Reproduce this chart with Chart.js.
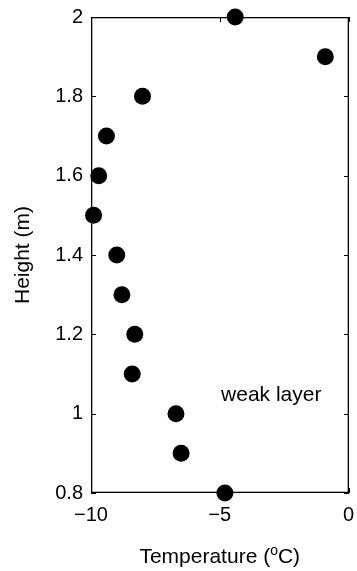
<!DOCTYPE html>
<html>
<head>
<meta charset="utf-8">
<script src="https://cdn.jsdelivr.net/npm/chart.js@4/dist/chart.umd.min.js"></script>
<style>
    html, body { margin: 0; padding: 0; background: #fff; overflow: hidden; }
    #wrap { width: 357px; height: 571px; position: relative; }
    canvas { display: block; }
</style>
</head>
<body>
<div id="wrap"><canvas id="myChartProfile"></canvas></div>
<script>
// temperature profile
var heights = [2.0, 1.9, 1.8, 1.7, 1.6, 1.5, 1.4, 1.3, 1.2, 1.1, 1.0, 0.9, 0.8];
var temps = [-4.4, -0.9, -8.0, -9.4, -9.7, -9.9, -9.0, -8.8, -8.3, -8.4, -6.7, -6.5, -4.8];
var xTicks = [-10, -5, 0];
var yTicks = [0.8, 1.0, 1.2, 1.4, 1.6, 1.8, 2.0];
var noteText = 'weak layer';
var notePos = [-3.0, 1.032];

var fontFamily = '"Liberation Sans", Arial, Helvetica, sans-serif';

var points = [];
for (var i = 0; i < heights.length; i++) {
    points.push({ x: temps[i], y: heights[i] });
}

// box, inward ticks, titles and the note (matlab style)
var matlabAxes = {
    id: 'matlabAxes',
    beforeDatasetsDraw: function (chart) {
        var ctx = chart.ctx;
        var xs = chart.scales.x;
        var ys = chart.scales.y;
        var L = Math.round(xs.getPixelForValue(-10));
        var R = Math.round(xs.getPixelForValue(0));
        var T = Math.round(ys.getPixelForValue(2));
        var B = Math.round(ys.getPixelForValue(0.8));
        ctx.save();
        ctx.fillStyle = '#000';
        // box as filled strips so every side shows
        ctx.fillRect(L, T, R - L, 1.3);
        ctx.fillRect(L, B - 1.3, R - L, 1.3);
        ctx.fillRect(L, T, 1.3, B - T);
        ctx.fillRect(R - 1.3, T, 1.3, B - T);
        xTicks.forEach(function (v) {
            var px = Math.round(xs.getPixelForValue(v));
            ctx.fillRect(px, B - 5, 1, 5);
            ctx.fillRect(px, T, 1, 5);
        });
        yTicks.forEach(function (v) {
            var py = Math.round(ys.getPixelForValue(v));
            ctx.fillRect(L, py, 5, 1);
            ctx.fillRect(R - 5, py, 5, 1);
        });
        ctx.restore();
    },
    afterDraw: function (chart) {
        var ctx = chart.ctx;
        var a = chart.chartArea;
        var xs = chart.scales.x;
        var ys = chart.scales.y;
        var big = '21px ' + fontFamily;
        var small = '14px ' + fontFamily;
        ctx.save();
        ctx.fillStyle = '#000';
        ctx.textBaseline = 'alphabetic';

        // x title with superscript o
        var p1 = 'Temperature (', p3 = 'C)';
        ctx.font = big;
        var w1 = ctx.measureText(p1).width;
        var w3 = ctx.measureText(p3).width;
        ctx.font = small;
        var w2 = ctx.measureText('o').width;
        var cx = (a.left + a.right) / 2 - (w1 + w2 + w3) / 2;
        var by = 563;
        ctx.textAlign = 'left';
        ctx.font = big;
        ctx.fillText(p1, cx, by);
        ctx.font = small;
        ctx.fillText('o', cx + w1, by - 8);
        ctx.font = big;
        ctx.fillText(p3, cx + w1 + w2, by);

        // y title
        ctx.save();
        ctx.translate(29, (a.top + a.bottom) / 2);
        ctx.rotate(-Math.PI / 2);
        ctx.textAlign = 'center';
        ctx.fillText('Height (m)', 0, 0);
        ctx.restore();

        // note
        ctx.textAlign = 'center';
        ctx.fillText(noteText, xs.getPixelForValue(notePos[0]), ys.getPixelForValue(notePos[1]));
        ctx.restore();
    }
};

const ctx = document.getElementById('myChartProfile');
const myChart = new Chart(ctx, {
    type: 'scatter',
    data: {
        datasets: [{
            label: 'Temperature',
            data: points,
            backgroundColor: '#000',
            borderColor: '#000',
            borderWidth: 0,
            pointRadius: 8.5,
            pointHoverRadius: 8.5,
            clip: false
        }]
    },
    options: {
        responsive: true,
        maintainAspectRatio: false,
        animation: false,
        events: [],
        layout: {
            padding: { top: 17, right: 6, bottom: 0, left: 0 }
        },
        plugins: {
            legend: { display: false },
            tooltip: { enabled: false }
        },
        scales: {
            x: {
                type: 'linear',
                min: -10,
                max: 0,
                grid: { display: false, drawTicks: false },
                border: { display: false },
                afterFit: function (scale) {
                    scale.height = 78;
                    scale.paddingLeft = 0;
                    scale.paddingRight = 0;
                },
                afterBuildTicks: function (scale) {
                    scale.ticks = xTicks.map(function (v) { return { value: v }; });
                },
                ticks: {
                    padding: 10,
                    maxRotation: 0,
                    autoSkip: false,
                    color: '#000',
                    font: { family: fontFamily, size: 20 },
                    callback: function (v) { return v < 0 ? '\u2212' + Math.abs(v) : String(v); }
                }
            },
            y: {
                type: 'linear',
                min: 0.8,
                max: 2,
                grid: { display: false, drawTicks: false },
                border: { display: false },
                afterFit: function (scale) {
                    scale.width = 91;
                    scale.paddingTop = 0;
                    scale.paddingBottom = 0;
                },
                afterBuildTicks: function (scale) {
                    scale.ticks = yTicks.map(function (v) { return { value: v }; });
                },
                ticks: {
                    padding: 8,
                    autoSkip: false,
                    color: '#000',
                    font: { family: fontFamily, size: 20 },
                    callback: function (v) { return String(Number(v.toFixed(1))); }
                }
            }
        }
    },
    plugins: [matlabAxes]
});
</script>
</body>
</html>
